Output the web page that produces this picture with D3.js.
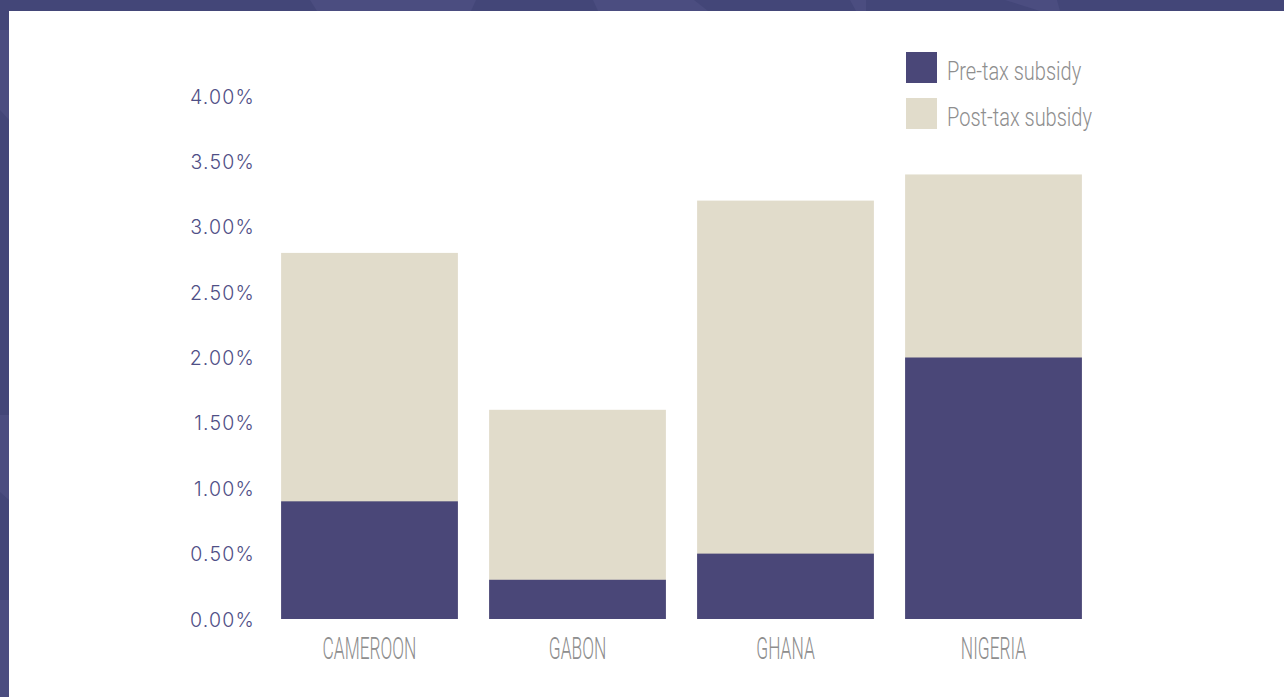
<!DOCTYPE html>
<html>
<head>
<meta charset="utf-8">
<script src="https://cdn.jsdelivr.net/npm/d3@7"></script>
<style>
  html, body { margin: 0; padding: 0; background: #ffffff; }
  svg { display: block; }
</style>
</head>
<body>
<svg id="chart" width="1284" height="697"></svg>
<script>
// Fossil fuel subsidies as a share of GDP
const countries = ["CAMEROON", "GABON", "GHANA", "NIGERIA"];
const preTax = [0.9, 0.3, 0.5, 2.0];          // % of GDP
const postTaxTotal = [2.8, 1.6, 3.2, 3.4];    // % of GDP (full bar height)
const yTicks = [0, 0.5, 1, 1.5, 2, 2.5, 3, 3.5, 4];
const seriesNames = ["Pre-tax subsidy", "Post-tax subsidy"];

const colors = {
  frame: "#434678",
  frameLight: "#4b4d80",
  pre: "#4a4778",
  post: "#e1dccb",
  tick: "#4f4f86",
  cat: "#8e8e8e",
  legend: "#8e8e8e"
};

const W = 1284, H = 697;
const svg = d3.select("#chart");

// Outer frame with faint geometric shapes, then the white panel
svg.append("rect").attr("width", W).attr("height", H).attr("fill", colors.frame);
const shapes = [
  [[310, 0], [476, 0], [471, 11], [317, 11]],
  [[593, 0], [694, 0], [708, 11], [598, 11]],
  [[1005, 0], [1057, 0], [1060, 11], [1040, 11]],
  [[850, 0], [866, 0], [866, 11], [856, 11]],
  [[0, 415], [9, 415], [9, 500], [0, 492]],
  [[0, 600], [9, 600], [9, 697], [0, 697]],
  [[0, 30], [9, 30], [9, 120], [0, 110]]
];
svg.append("g").selectAll("polygon").data(shapes).join("polygon")
  .attr("points", d => d.map(p => p.join(",")).join(" "))
  .attr("fill", colors.frameLight);
svg.append("rect").attr("x", 9).attr("y", 11).attr("width", W - 9).attr("height", H - 11).attr("fill", "#ffffff");

// Scales
const x = d3.scaleBand().domain(countries).range([265.5, 1097.5])
  .paddingInner(0.15).paddingOuter(0.075);
const y = d3.scaleLinear().domain([0, 4]).range([619, 96]);

// Bars: post-tax (full height) behind, pre-tax in front
const data = countries.map((c, i) => ({ c, pre: preTax[i], total: postTaxTotal[i] }));
const bars = svg.append("g");
bars.selectAll("rect.post").data(data).join("rect").attr("class", "post")
  .attr("x", d => x(d.c)).attr("width", x.bandwidth())
  .attr("y", d => y(d.total)).attr("height", d => y(0) - y(d.total))
  .attr("fill", colors.post);
bars.selectAll("rect.pre").data(data).join("rect").attr("class", "pre")
  .attr("x", d => x(d.c)).attr("width", x.bandwidth())
  .attr("y", d => y(d.pre)).attr("height", d => y(0) - y(d.pre))
  .attr("fill", colors.pre);

// Y axis labels
const yAxis = d3.axisLeft(y).tickValues(yTicks).tickSize(0).tickPadding(0)
  .tickFormat(d => d.toFixed(2) + "%");
const yg = svg.append("g").attr("transform", "translate(255,0)").call(yAxis);
yg.select(".domain").remove();
yg.selectAll("text")
  .attr("fill", colors.tick)
  .style("font-family", "Inter, 'Noto Sans', sans-serif")
  .style("font-weight", 300)
  .style("font-size", "19.5px")
  .style("letter-spacing", "1.2px")
  .attr("dy", "0.36em");

// Category labels (condensed light)
const catScale = 0.56;
const xg = svg.append("g");
xg.selectAll("text").data(countries).join("text")
  .attr("transform", d => `translate(${x(d) + x.bandwidth() / 2},659) scale(${catScale},1)`)
  .attr("text-anchor", "middle")
  .attr("fill", colors.cat)
  .style("font-family", "Roboto, sans-serif")
  .style("font-weight", 300)
  .style("font-size", "31px")
  .text(d => d);

// Legend
const legScale = 0.77;
const leg = svg.append("g").attr("transform", "translate(906,52)");
const legItems = leg.selectAll("g").data(seriesNames).join("g")
  .attr("transform", (d, i) => `translate(0,${i * 46})`);
legItems.append("rect").attr("width", 31).attr("height", 31)
  .attr("fill", (d, i) => i === 0 ? colors.pre : colors.post);
legItems.append("text")
  .attr("transform", `translate(41,27.5) scale(${legScale},1)`)
  .attr("fill", colors.legend)
  .style("font-family", "Roboto, sans-serif")
  .style("font-weight", 300)
  .style("font-size", "26px")
  .text(d => d);
</script>
</body>
</html>
